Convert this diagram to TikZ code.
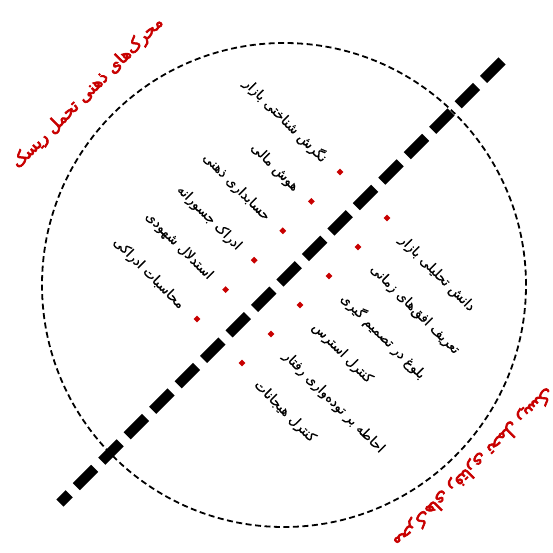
\documentclass[tikz,border=0pt]{standalone}
\usepackage{fontspec}
\usepackage{xcolor}
\usepackage{tikz}
\usetikzlibrary{calc,shapes.geometric}
\newfontfamily\fa[Script=Arabic,FakeBold=0.5]{DejaVu Sans}
\newfontfamily\fab[Script=Arabic,FakeBold=4]{DejaVu Sans}
\TeXXeTstate=1
\definecolor{darkred}{HTML}{C80000}
\newcommand{\rtl}[1]{\beginR #1\endR}

\begin{document}
\begin{tikzpicture}[
  x=1pt,y=-1pt,
  ring/.style={draw=black,line width=1.8pt,dash pattern=on 6pt off 3.5pt},
  bigdash/.style={draw=black,line width=10pt,dash pattern=on 26pt off 10pt},
  reddot/.style={fill=darkred,diamond,inner sep=0pt,minimum size=7pt},
  item/.style={inner sep=0pt,font=\fa\fontsize{13.5}{16}\selectfont},
  title/.style={inner sep=0pt,text=darkred,font=\fab\fontsize{17}{20}\selectfont}
]
  \useasboundingbox (0,0) rectangle (553,553);
  \draw[ring] (284,285) circle[radius=242pt];
  \coordinate (lineTop) at (502,61);
  \coordinate (lineBot) at (60,503);
  \draw[bigdash] (lineTop) -- (lineBot);
  % mental drivers, left of the line
  \foreach \i/\t in {0/نگرش شناختی بازار,1/هوش مالی,2/حسابداری ذهنی,
                     3/ادراک جسورانه,4/استدلال شهودی,5/محاسبات ادراکی}{
    \node[reddot] (m\i) at ($(340,172)+\i*(-28.6,29.4)$) {};
    \node[item,rotate=-45,anchor=east] (mt\i) at ($(m\i)+(-15,-12)$) {\rtl{\t}};
  }
  % behavioural drivers, right of the line
  \foreach \i/\t in {0/دانش تحلیلی بازار,1/تعریف افق‌های زمانی,2/بلوغ در تصمیم گیری,
                     3/کنترل استرس,4/احاطه بر توده‌واری رفتار,5/کنترل هیجانات}{
    \node[reddot] (b\i) at ($(387,218)+\i*(-29,29)$) {};
    \node[item,rotate=-45,anchor=west] (bt\i) at ($(b\i)+(14,20)$) {\rtl{\t}};
  }
  \node[title,rotate=45] (mindTitle) at (88,93) {\rtl{محرک‌های ذهنی تحمل ریسک}};
  \node[title,rotate=225] (behavTitle) at (473,467) {\rtl{محرک‌های رفتاری تحمل ریسک}};
\end{tikzpicture}
\end{document}
